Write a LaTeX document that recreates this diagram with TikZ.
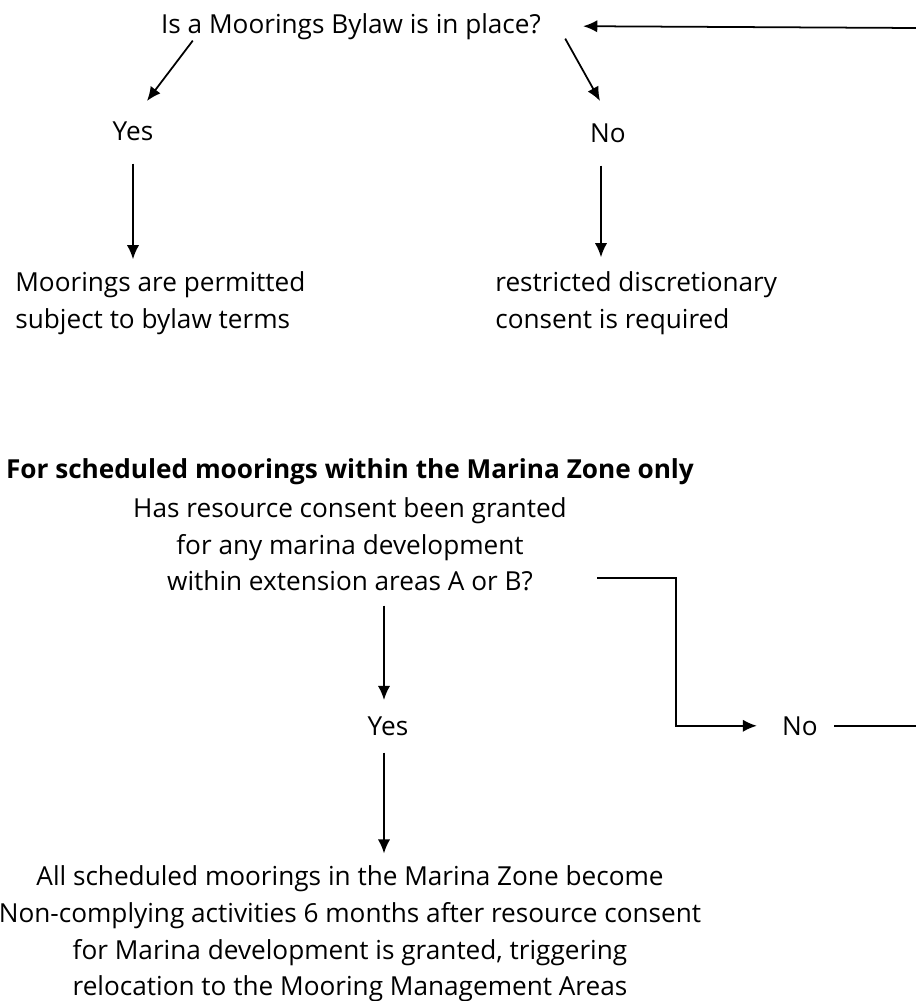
\documentclass[tikz,border=0pt]{standalone}
\usepackage{fontspec}
\setmainfont{Open Sans}
\usetikzlibrary{arrows.meta,calc}

\begin{document}
\begin{tikzpicture}[x=0.02cm, y=-0.02cm, >={Latex[length=8pt,width=7pt]},
    txt/.style={inner sep=0pt, font=\fontsize{14.9}{20.9}\selectfont},
    flow/.style={->, line width=1pt},
    link/.style={line width=1pt}]
    \clip (0,0) rectangle (916,1001);
    % Step 1: Moorings Bylaw
    \node[txt, anchor=base] (q1) at (351,33) {Is a Moorings Bylaw is in place?};
    \node[txt, anchor=base] (yes1) at (133,140) {Yes};
    \node[txt, anchor=base] (no1) at (608,142) {No};
    \node[txt, anchor=west, align=left] (res1) at (15,303) {Moorings are permitted\\subject to bylaw terms};
    \node[txt, anchor=west, align=left] (res2) at (495,303) {restricted discretionary\\consent is required};
    % Step 2: Marina Zone
    \node[txt, anchor=base, font=\fontsize{14.9}{20.9}\selectfont\bfseries] (hdr) at (350,478) {For scheduled moorings within the Marina Zone only};
    \node[txt, align=center] (q2) at (350,544.5) {Has resource consent been granted\\for any marina development\\within extension areas A or B?};
    \node[txt, anchor=base] (yes2) at (388,735) {Yes};
    \node[txt, anchor=base] (no2) at (800,735) {No};
    \node[txt, align=center] (res3) at (350,934) {All scheduled moorings in the Marina Zone become\\Non-complying activities 6 months after resource consent\\for Marina development is granted, triggering\\relocation to the Mooring Management Areas};
    % Loop back
    \coordinate (topR) at (916,28);
    \coordinate (botR) at (916,727);
    % Connecting Arrows
    \draw[flow] ($(q1.south west)+(32,1)$) -- ($(yes1.north)+(14,-20)$);
    \draw[flow] ($(q1.south east)+(24,-1)$) -- ($(no1.north)+(-8,-22)$);
    \draw[flow] ($(yes1.south)+(0,23)$) -- ($(yes1.south |- res1.north)+(0,-12)$);
    \draw[flow] ($(no1.south)+(-7,23)$) -- ($(no1.south |- res2.north)+(-7,-14)$);
    \draw[flow] ($(q2.south)+(34,14)$) -- ($(yes2.north)+(-4,-16)$);
    \draw[flow] ($(yes2.south)+(-4,17)$) -- ($(yes2.south |- res3.north)+(-4,-12)$);
    \draw[flow] ($(q2.south east)+(30,-14)$) -- ++(79,0) |- ($(no2.west)+(-25,0)$);
    \draw[link] ($(no2.east)+(16,0)$) -- (no2.east -| botR);
    \draw[flow] (topR) -- ($(q1.east)+(42,0)$);
\end{tikzpicture}
\end{document}
